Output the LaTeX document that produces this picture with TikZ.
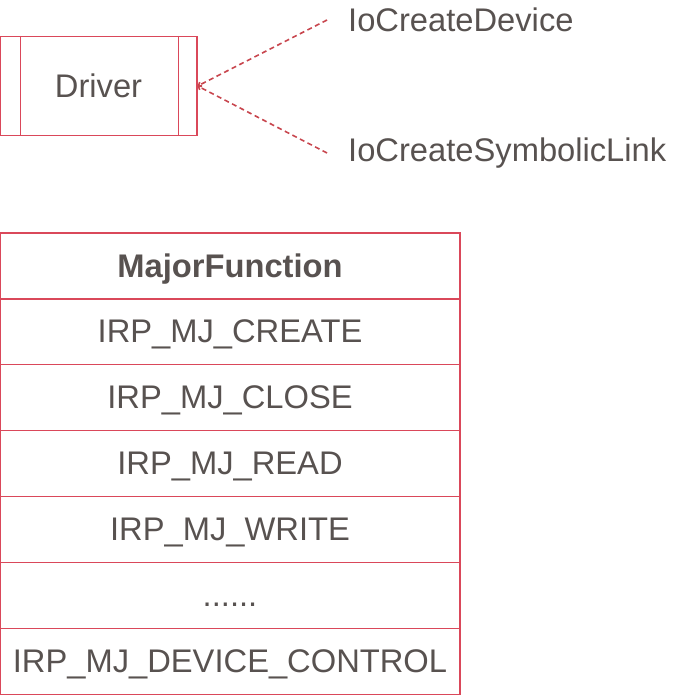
\documentclass[tikz,border=0pt]{standalone}
\usepackage{fontspec}
\setmainfont{Liberation Sans}
\usepackage{tikz}
\usetikzlibrary{calc,arrows.meta,positioning}
\definecolor{boxred}{RGB}{218,72,90}
\definecolor{linkred}{RGB}{200,70,78}
\definecolor{txtgray}{RGB}{88,82,80}
\tikzset{
    driverbox/.style={
    rectangle,draw=boxred,line width=1.2pt,minimum width=197pt,minimum height=99pt,
    text=txtgray,font=\fontsize{32.7}{36}\selectfont
    },
    callname/.style={
    rectangle,inner sep=0pt,anchor=west,text=txtgray,font=\fontsize{32.7}{36}\selectfont
    },
    tablerow/.style={
    rectangle,draw=boxred,line width=1.2pt,minimum width=460pt,minimum height=65.9pt,
    inner sep=0pt,outer sep=0pt,text height=24pt,text depth=2pt,
    text=txtgray,font=\fontsize{32.7}{36}\selectfont
    },
    calllink/.style={
    draw=linkred,line width=1.6pt,dash pattern=on 5pt off 3.5pt,
    -{Straight Barb[length=2.5pt,width=5pt]}
    },
}
\begin{document}
\begin{tikzpicture}[x=1pt,y=1pt]
   \useasboundingbox (0,0) rectangle (691,-699);
   \node[driverbox] (driver) at (98.5,-86) {Driver};
   \draw[boxred,line width=1.2pt] ($(driver.north west)+(21,0)$) -- ($(driver.south west)+(21,0)$)
         ($(driver.north east)+(-19,0)$) -- ($(driver.south east)+(-19,0)$);
   \node[callname] (iocd) at (348,-20) {IoCreateDevice};
   \node[callname] (iocsl) at (348,-153) {IoCreateSymbolicLink};
   \coordinate (devend) at ([xshift=-21pt]iocd.west);
   \coordinate (symend) at ([xshift=-21pt]iocsl.west);

   \node[tablerow] (major) at (230,-266) {\bfseries MajorFunction};
   \node[tablerow] (create) [below=0pt of major] {IRP\_MJ\_CREATE};
   \node[tablerow] (close) [below=0pt of create] {IRP\_MJ\_CLOSE};
   \node[tablerow] (read) [below=0pt of close] {IRP\_MJ\_READ};
   \node[tablerow] (write) [below=0pt of read] {IRP\_MJ\_WRITE};
   \node[tablerow] (more) [below=0pt of write] {......};
   \node[tablerow] (ioctl) [below=0pt of more] {IRP\_MJ\_DEVICE\_CONTROL};

  \path
             (devend) edge [calllink] (driver.east)
             (symend) edge [calllink] (driver.east);
\end{tikzpicture}
\end{document}
